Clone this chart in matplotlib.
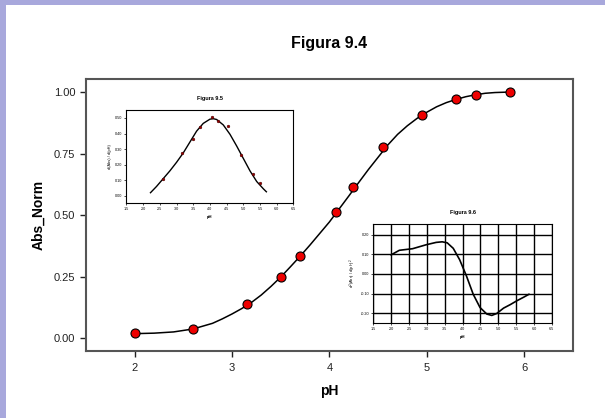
import numpy as np
import matplotlib.pyplot as plt
from matplotlib.patches import Rectangle

plt.rcParams['font.family'] = ['Liberation Sans', 'DejaVu Sans']

# main titration data (Figura 9.4)
ph = [2.00, 2.60, 3.15, 3.50, 3.70, 4.07, 4.24, 4.55, 4.95, 5.30, 5.50, 5.85]
abs_norm = [0.020, 0.036, 0.137, 0.248, 0.335, 0.513, 0.615, 0.776, 0.906, 0.970, 0.986, 1.001]

# fitted curve
fit_ph = [2.0, 2.2, 2.4, 2.6, 2.8, 2.9, 3.0, 3.1, 3.2, 3.3, 3.4, 3.5, 3.6, 3.7, 3.8,
          3.9, 4.0, 4.1, 4.2, 4.3, 4.4, 4.5, 4.6, 4.7, 4.8, 4.9, 5.0, 5.1, 5.2,
          5.3, 5.4, 5.5, 5.6, 5.7, 5.85]
fit_abs = [0.018, 0.020, 0.025, 0.037, 0.060, 0.078, 0.098, 0.120, 0.145, 0.175,
           0.210, 0.248, 0.290, 0.333, 0.378, 0.425, 0.472, 0.525, 0.578, 0.632,
           0.685, 0.735, 0.785, 0.828, 0.863, 0.893, 0.918, 0.940, 0.957, 0.970,
           0.981, 0.989, 0.995, 0.998, 1.000]

# first derivative (Figura 9.5)
d1_ph = [2.59, 3.15, 3.49, 3.70, 4.06, 4.24, 4.55, 4.94, 5.29, 5.49]
d1_val = [0.109, 0.278, 0.363, 0.442, 0.504, 0.479, 0.447, 0.259, 0.141, 0.083]
d1_fit_ph = [2.22, 2.4, 2.6, 2.8, 3.0, 3.2, 3.4, 3.6, 3.8, 4.0, 4.1, 4.2, 4.4,
             4.6, 4.8, 5.0, 5.2, 5.4, 5.6, 5.69]
d1_fit_val = [0.020, 0.060, 0.110, 0.160, 0.215, 0.275, 0.345, 0.415, 0.465,
              0.492, 0.495, 0.490, 0.455, 0.395, 0.320, 0.240, 0.160, 0.092,
              0.045, 0.026]

# second derivative (Figura 9.6)
d2_ph = [2.00, 2.23, 2.60, 2.98, 3.26, 3.43, 3.57, 3.74, 3.92, 4.11, 4.30, 4.49,
         4.68, 4.82, 4.96, 5.15, 5.34, 5.53, 5.72, 5.86]
d2_val = [0.097, 0.120, 0.128, 0.148, 0.160, 0.163, 0.158, 0.130, 0.072, -0.010,
          -0.103, -0.170, -0.203, -0.210, -0.200, -0.173, -0.155, -0.135, -0.117,
          -0.103]

inset_ticks = np.arange(1.5, 6.51, 0.5)

fig = plt.figure(figsize=(6.05, 4.18), dpi=100, facecolor='#a8a8dc')
fig.add_artist(Rectangle((6 / 605, 0), 1, 1 - 5 / 418, transform=fig.transFigure,
                         facecolor='white', edgecolor='none', zorder=-10))

ax = fig.add_axes([0.142, 0.160, 0.805, 0.651])
ax.plot(fit_ph, fit_abs, color='black', lw=1.1, zorder=2)
ax.plot(ph, abs_norm, 'o', ms=6.5, mfc='#ee0000', mec='black', mew=0.8, zorder=3)
ax.set_xlim(1.5, 6.5)
ax.set_ylim(-0.053, 1.053)
ax.set_xticks([2, 3, 4, 5, 6])
ax.set_yticks([0, 0.25, 0.5, 0.75, 1.0])
ax.set_yticklabels(['0.00', '0.25', '0.50', '0.75', '1.00'])
ax.tick_params(direction='out', length=4.5, width=1, labelsize=8, colors='#222222', pad=3)
ax.tick_params(axis='x', pad=4)
for s in ax.spines.values():
    s.set_color('#555555')
    s.set_linewidth(1.5)
ax.set_xlabel('pH', fontsize=10, fontweight='bold', labelpad=8)
ax.set_ylabel('Abs_Norm', fontsize=10, fontweight='bold', labelpad=6)
fig.text(0.544, 0.897, 'Figura 9.4', ha='center', va='center', fontsize=11.5,
         fontweight='bold')


def style_inset(a, title, ylabel):
    a.set_xlim(1.5, 6.5)
    a.set_xticks(inset_ticks)
    a.set_xticklabels([f'{t:.1f}' for t in inset_ticks])
    a.tick_params(direction='out', length=1.5, width=0.5, labelsize=2.7, pad=1.5)
    for s in a.spines.values():
        s.set_linewidth(0.8)
    a.set_title(title, fontsize=4, fontweight='bold', pad=7)
    a.set_xlabel('pH', fontsize=3, fontweight='bold', labelpad=3)
    a.set_ylabel(ylabel, fontsize=2.8, labelpad=2)


ax1 = fig.add_axes([0.209, 0.514, 0.276, 0.224])
ax1.plot(d1_fit_ph, d1_fit_val, color='black', lw=1.0)
ax1.plot(d1_ph, d1_val, 'o', ms=2, mfc='#990000', mec='#330000', mew=0.3)
ax1.set_ylim(-0.047, 0.554)
ax1.set_yticks([0, 0.1, 0.2, 0.3, 0.4, 0.5])
ax1.set_yticklabels(['0.00', '0.10', '0.20', '0.30', '0.40', '0.50'])
style_inset(ax1, 'Figura 9.5', 'd(Abs) / d(pH)')

ax2 = fig.add_axes([0.617, 0.227, 0.295, 0.237])
ax2.plot(d2_ph, d2_val, color='black', lw=1.2, zorder=3)
ax2.set_ylim(-0.249, 0.253)
ax2.set_yticks([-0.2, -0.1, 0, 0.1, 0.2])
ax2.set_yticklabels(['-0.20', '-0.10', '0.00', '0.10', '0.20'])
ax2.grid(True, color='black', lw=1.0)
style_inset(ax2, 'Figura 9.6', 'd$^2$(Abs) / d(pH)$^2$')

fig.savefig('out.png', dpi=100, facecolor=fig.get_facecolor())
